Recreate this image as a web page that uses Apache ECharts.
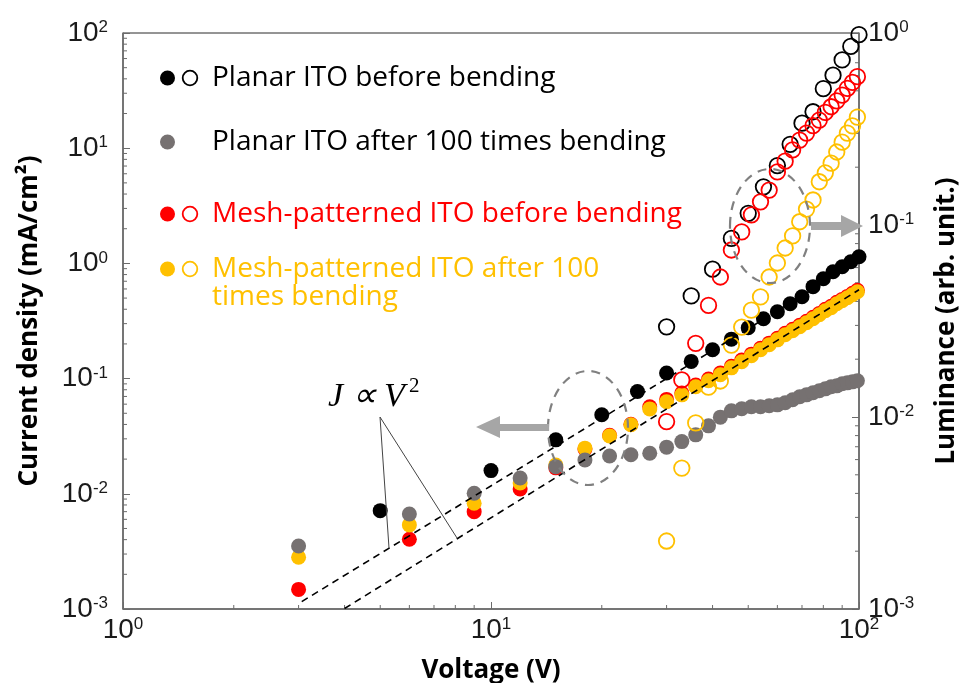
<!DOCTYPE html>
<html>
<head>
<meta charset="utf-8">
<script src="https://cdn.jsdelivr.net/npm/echarts@6/dist/echarts.min.js"></script>
<style>
  html, body { margin: 0; padding: 0; background: #fff; }
  #chart { width: 962px; height: 683px; }
</style>
</head>
<body>
<div id="chart"></div>
<script>
// Voltage steps (V)
const vStep5 = [5, 10, 15, 20, 25, 30, 35, 40, 45, 50, 55, 60, 65, 70, 75, 80, 85, 90, 95, 100];
const vStep3 = [3, 6, 9, 12, 15, 18, 21, 24, 27, 30, 33, 36, 39, 42, 45, 48, 51, 54, 57, 60, 63, 66, 69, 72, 75, 78, 81, 84, 87, 90, 93, 96, 99];
const vLumBlack = [30, 35, 40, 45, 50, 55, 60, 65, 70, 75, 80, 85, 90, 95, 100];
const vLumMesh = [30, 33, 36, 39, 42, 45, 48, 51, 54, 57, 60, 63, 66, 69, 72, 75, 78, 81, 84, 87, 90, 93, 96, 99];

// Current density (mA/cm2)
const jPlanarBefore = [0.00714, 0.0159, 0.0294, 0.0485, 0.0773, 0.112, 0.141, 0.178, 0.22, 0.276, 0.331, 0.380, 0.447, 0.514, 0.628, 0.736, 0.847, 0.935, 1.035, 1.143];
const jPlanarAfter = [0.00352, 0.00668, 0.0101, 0.0137, 0.0172, 0.0197, 0.0213, 0.0218, 0.0225, 0.0254, 0.0284, 0.0325, 0.0389, 0.0463, 0.0525, 0.0547, 0.0569, 0.0569, 0.0581, 0.0592, 0.0617, 0.0655, 0.0695, 0.0723, 0.0754, 0.0784, 0.0815, 0.0849, 0.0865, 0.0902, 0.0919, 0.0937, 0.0957];
const jMeshBefore = [0.00148, 0.00403, 0.0070, 0.0110, 0.0168, 0.0245, 0.0322, 0.0402, 0.057, 0.066, 0.075, 0.088, 0.099, 0.112, 0.128, 0.145, 0.163, 0.183, 0.203, 0.224, 0.247, 0.268, 0.290, 0.314, 0.340, 0.368, 0.399, 0.424, 0.459, 0.487, 0.517, 0.550, 0.584];
const jMeshAfter = [0.00281, 0.00537, 0.00828, 0.0124, 0.0178, 0.0249, 0.0318, 0.0397, 0.0546, 0.0629, 0.0723, 0.0849, 0.0957, 0.108, 0.124, 0.140, 0.158, 0.178, 0.197, 0.217, 0.240, 0.260, 0.282, 0.305, 0.331, 0.358, 0.388, 0.412, 0.447, 0.474, 0.504, 0.535, 0.568];

// Luminance (arb. unit)
const lPlanarBefore = [0.0295, 0.0427, 0.0589, 0.0851, 0.115, 0.158, 0.204, 0.263, 0.339, 0.389, 0.513, 0.603, 0.724, 0.851, 0.98];
const lMeshBefore = [0.00945, 0.0156, 0.0242, 0.0381, 0.0536, 0.0741, 0.092, 0.113, 0.132, 0.152, 0.189, 0.215, 0.246, 0.277, 0.301, 0.329, 0.352, 0.386, 0.413, 0.443, 0.475, 0.515, 0.553, 0.592];
const lMeshAfter = [0.00226, 0.00542, 0.00931, 0.0143, 0.0154, 0.0237, 0.0294, 0.0360, 0.0422, 0.0536, 0.0634, 0.0759, 0.0877, 0.104, 0.121, 0.135, 0.168, 0.187, 0.210, 0.240, 0.270, 0.301, 0.328, 0.365];

// J ∝ V^2 guide lines (end points)
const guideUpper = [[3.06, 0.00116], [100, 1.05]];
const guideLower = [[4.0, 0.00101], [100, 0.59]];

// Minor tick positions
const minorX = [2, 3, 4, 5, 6, 7, 8, 9, 20, 30, 40, 50, 60, 70, 80, 90];
const minorYLeft = [];
[0.001, 0.01, 0.1, 1, 10].forEach(d => { for (let k = 2; k <= 9; k++) minorYLeft.push(+(d * k).toPrecision(3)); });
const minorYRight = [];
[0.001, 0.01, 0.1].forEach(d => { for (let k = 2; k <= 9; k++) minorYRight.push(+(d * k).toPrecision(3)); });

const C_BLACK = '#000000', C_GRAY = '#767171', C_RED = '#FF0000', C_GOLD = '#FFC000';
const AXIS_C = '#6b6b6b';

const zip = (xs, ys) => xs.map((x, i) => [x, ys[i]]);

const powLabel = v => '{b|10}{s|' + Math.round(Math.log10(v)) + '}';
const labelRich = {
  b: { fontSize: 28, fontFamily: 'Liberation Sans', color: '#1a1a1a' },
  s: { fontSize: 17, fontFamily: 'Liberation Sans', color: '#1a1a1a', verticalAlign: 'top' }
};

const nameStyle = { fontSize: 26, fontWeight: 'bold', fontFamily: 'Open Sans', color: '#000' };

function filled(name, xs, ys, color, yAxisIndex) {
  return {
    name, type: 'scatter', xAxisIndex: 0, yAxisIndex,
    data: zip(xs, ys), symbol: 'circle', symbolSize: 15,
    itemStyle: { color, opacity: 1 }, silent: true, animation: false
  };
}
function hollow(name, xs, ys, color, yAxisIndex) {
  return {
    name, type: 'scatter', xAxisIndex: 0, yAxisIndex,
    data: zip(xs, ys), symbol: 'circle', symbolSize: 15.5,
    itemStyle: { color: 'rgba(0,0,0,0)', borderColor: color, borderWidth: 1.8, opacity: 1 },
    silent: true, animation: false
  };
}
function guide(data) {
  return {
    type: 'line', xAxisIndex: 0, yAxisIndex: 0, data, showSymbol: false, symbol: 'none',
    lineStyle: { color: '#000', width: 1.6, type: [7, 5] }, silent: true, animation: false
  };
}
function tickSeries(data, yAxisIndex, dir) {
  return {
    type: 'custom', xAxisIndex: 0, yAxisIndex, data, silent: true, animation: false, clip: false,
    renderItem: (params, api) => {
      const p = api.coord([api.value(0), api.value(1)]);
      const len = 4;
      let x2 = p[0], y2 = p[1];
      if (dir === 'up') y2 -= len; else if (dir === 'right') x2 += len; else x2 -= len;
      return { type: 'line', shape: { x1: p[0], y1: p[1], x2, y2 }, style: { stroke: AXIS_C, lineWidth: 1 } };
    }
  };
}

const chart = echarts.init(document.getElementById('chart'), null, { renderer: 'canvas' });

const legendRows = [
  { y: 78, fill: C_BLACK, open: C_BLACK, text: 'Planar ITO before bending', color: '#000' },
  { y: 142, fill: C_GRAY, open: null, text: 'Planar ITO after 100 times bending', color: '#000' },
  { y: 214, fill: C_RED, open: C_RED, text: 'Mesh-patterned ITO before bending', color: C_RED },
  { y: 269, fill: C_GOLD, open: C_GOLD, text: 'Mesh-patterned ITO after 100\ntimes bending', color: C_GOLD }
];
const legendGraphics = [];
legendRows.forEach(r => {
  legendGraphics.push({ type: 'circle', shape: { cx: 167.5, cy: r.y, r: 7.5 }, style: { fill: r.fill }, silent: true });
  if (r.open) legendGraphics.push({ type: 'circle', shape: { cx: 190, cy: r.y, r: 7.3 }, style: { fill: 'none', stroke: r.open, lineWidth: 1.8 }, silent: true });
  legendGraphics.push({
    type: 'text', x: 212, y: r.y - 14, silent: true,
    style: { text: r.text, fill: r.color, font: '28px "Open Sans"', lineHeight: 28, verticalAlign: 'top' }
  });
});

const option = {
  animation: false,
  backgroundColor: '#fff',
  grid: {
    left: 123, right: 103, top: 33, bottom: 74,
    outerBoundsMode: 'none', containLabel: false,
    show: true, borderColor: '#2a2a2a', borderWidth: 1, backgroundColor: 'transparent'
  },
  xAxis: {
    type: 'log', logBase: 10, min: 1, max: 100,
    axisLine: { lineStyle: { color: AXIS_C, width: 1.5 } },
    axisTick: { inside: true, length: 7, lineStyle: { color: AXIS_C } },
    splitLine: { show: false },
    axisLabel: { formatter: powLabel, rich: labelRich, margin: 7 },
    name: 'Voltage (V)', nameLocation: 'middle', nameGap: 49, nameTextStyle: nameStyle
  },
  yAxis: [
    {
      type: 'log', logBase: 10, min: 0.001, max: 100, position: 'left',
      axisLine: { show: true, lineStyle: { color: AXIS_C, width: 1.5 } },
      axisTick: { show: true, inside: true, length: 7, lineStyle: { color: AXIS_C } },
      splitLine: { show: false },
      axisLabel: { formatter: powLabel, rich: labelRich, margin: 15 },
      name: 'Current density (mA/cm²)', nameLocation: 'middle', nameRotate: 90, nameGap: 80, nameTextStyle: nameStyle
    },
    {
      type: 'log', logBase: 10, min: 0.001, max: 1, position: 'right',
      axisLine: { show: true, lineStyle: { color: AXIS_C, width: 1.5 } },
      axisTick: { show: true, inside: true, length: 7, lineStyle: { color: AXIS_C } },
      splitLine: { show: false },
      axisLabel: { formatter: powLabel, rich: labelRich, margin: 9 },
      name: 'Luminance (arb. unit.)', nameLocation: 'middle', nameRotate: 90, nameGap: 75, nameTextStyle: nameStyle
    }
  ],
  series: [
    tickSeries(minorX.map(v => [v, 0.001]), 0, 'up'),
    tickSeries(minorYLeft.map(v => [1, v]), 0, 'right'),
    tickSeries(minorYRight.map(v => [100, v]), 1, 'left'),
    filled('Mesh-patterned ITO before bending', vStep3, jMeshBefore, C_RED, 0),
    filled('Mesh-patterned ITO after 100 times bending', vStep3, jMeshAfter, C_GOLD, 0),
    filled('Planar ITO after 100 times bending', vStep3, jPlanarAfter, C_GRAY, 0),
    filled('Planar ITO before bending', vStep5, jPlanarBefore, C_BLACK, 0),
    guide(guideUpper),
    guide(guideLower),
    hollow('Planar ITO before bending (L)', vLumBlack, lPlanarBefore, C_BLACK, 1),
    hollow('Mesh-patterned ITO before bending (L)', vLumMesh, lMeshBefore, C_RED, 1),
    hollow('Mesh-patterned ITO after 100 times bending (L)', vLumMesh, lMeshAfter, C_GOLD, 1)
  ],
  graphic: [
    ...legendGraphics,
    // dashed grouping ellipses
    { type: 'ellipse', shape: { cx: 588, cy: 428, rx: 40, ry: 57 }, style: { fill: 'none', stroke: '#808080', lineWidth: 2.2, lineDash: [9, 7] }, silent: true, z: 10 },
    { type: 'ellipse', shape: { cx: 770, cy: 226, rx: 40, ry: 57 }, style: { fill: 'none', stroke: '#808080', lineWidth: 2.2, lineDash: [9, 7] }, silent: true, z: 10 },
    // arrows pointing to the relevant axis
    { type: 'polygon', shape: { points: [[549, 424], [500, 424], [500, 416], [476, 427], [500, 438], [500, 431], [549, 431]] }, style: { fill: '#a6a6a6' }, silent: true, z: 10 },
    { type: 'polygon', shape: { points: [[811, 222], [841, 222], [841, 215], [863, 226], [841, 237], [841, 230], [811, 230]] }, style: { fill: '#a6a6a6' }, silent: true, z: 10 },
    // J ∝ V^2 annotation
    {
      type: 'text', x: 328, y: 380, silent: true, z: 10,
      style: { text: 'J ∝ V', font: 'italic 34px "Liberation Serif"', fill: '#000', verticalAlign: 'top' }
    },
    {
      type: 'text', x: 409, y: 376, silent: true, z: 10,
      style: { text: '2', font: '21px "Liberation Serif"', fill: '#000', verticalAlign: 'top' }
    },
    { type: 'polyline', shape: { points: [[389, 548], [380, 417], [457, 538]] }, style: { stroke: '#444', lineWidth: 1, fill: 'none' }, silent: true, z: 10 }
  ]
};
chart.setOption(option);
</script>
</body>
</html>
